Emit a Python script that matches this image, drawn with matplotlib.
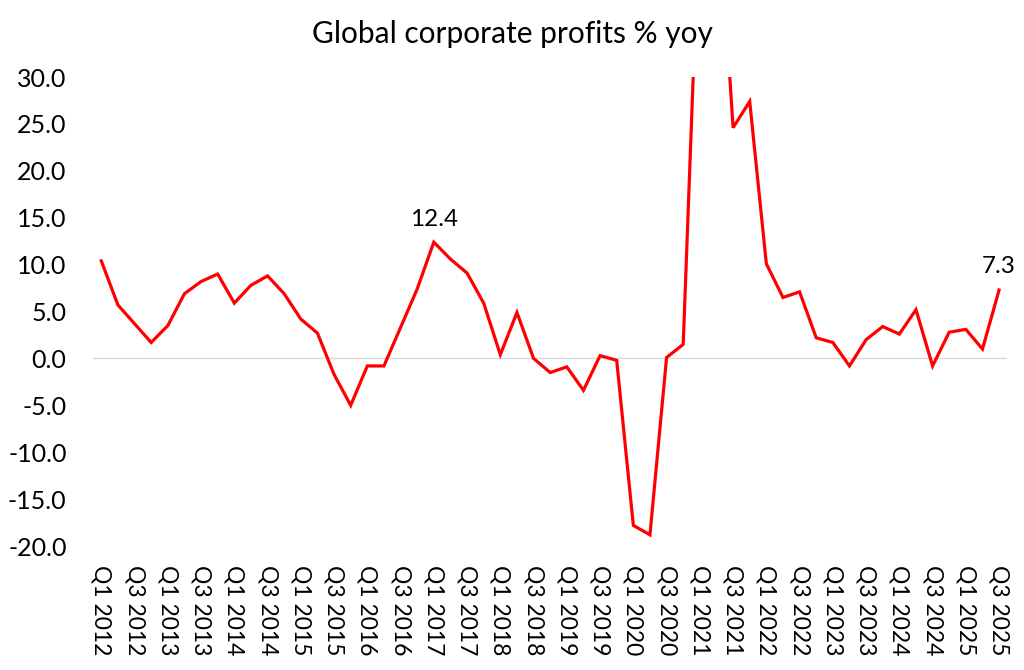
import matplotlib
matplotlib.use("Agg")
import matplotlib.pyplot as plt

# quarters Q1 2012 .. Q3 2025
years = list(range(2012, 2026))
quarters = [f"Q{q} {y}" for y in years for q in range(1, 5)][:55]

profits_yoy = [
    10.4, 5.7, 3.7, 1.7,      # 2012
    3.5, 6.9, 8.2, 9.0,       # 2013
    5.9, 7.8, 8.8, 6.9,       # 2014
    4.2, 2.7, -1.7, -5.0,     # 2015
    -0.8, -0.8, 3.3, 7.4,     # 2016
    12.4, 10.6, 9.1, 5.9,     # 2017
    0.4, 4.9, 0.0, -1.5,      # 2018
    -0.9, -3.4, 0.3, -0.2,    # 2019
    -17.8, -18.8, 0.1, 1.5,   # 2020
    49.0, 52.0, 24.6, 27.4,   # 2021
    10.1, 6.5, 7.1, 2.2,      # 2022
    1.7, -0.8, 2.0, 3.4,      # 2023
    2.6, 5.2, -0.8, 2.8,      # 2024
    3.1, 1.0, 7.3,            # 2025
]

# labelled points
labels = {"Q1 2017": "12.4", "Q3 2025": "7.3"}

plt.rcParams['font.family'] = ['Lato', 'DejaVu Sans']

fig = plt.figure(figsize=(10.24, 6.70), dpi=100)
ax = fig.add_axes([0.0908, 0.185, 0.893, 0.700])

x = list(range(len(quarters)))
ax.plot(x, profits_yoy, color="#ff0000", lw=2.3, solid_joinstyle="miter")

ax.set_xlim(-0.5, len(quarters) - 0.5)
ax.set_ylim(-20, 30)
ax.set_yticks([30, 25, 20, 15, 10, 5, 0, -5, -10, -15, -20])
ax.set_yticklabels([f"{v:.1f}" for v in ax.get_yticks()])

ax.set_xticks(x[::2])
ax.set_xticklabels(quarters[::2], rotation=270, va="top", ha="center")

ax.axhline(0, color="#d9d9d9", lw=1.0, zorder=0)
for s in ax.spines.values():
    s.set_visible(False)
ax.tick_params(axis="both", length=0)
ax.tick_params(axis="y", pad=19, labelsize=18)
ax.tick_params(axis="x", pad=14, labelsize=16.5)

for q, txt in labels.items():
    i = quarters.index(q)
    ax.annotate(txt, (i, profits_yoy[i]), xytext=(0, 9), textcoords="offset points",
                ha="center", va="bottom", fontsize=17.5)

fig.text(0.5, 0.950, "Global corporate profits % yoy", ha="center", va="center", fontsize=21.5)

fig.savefig("out.png", dpi=100)
